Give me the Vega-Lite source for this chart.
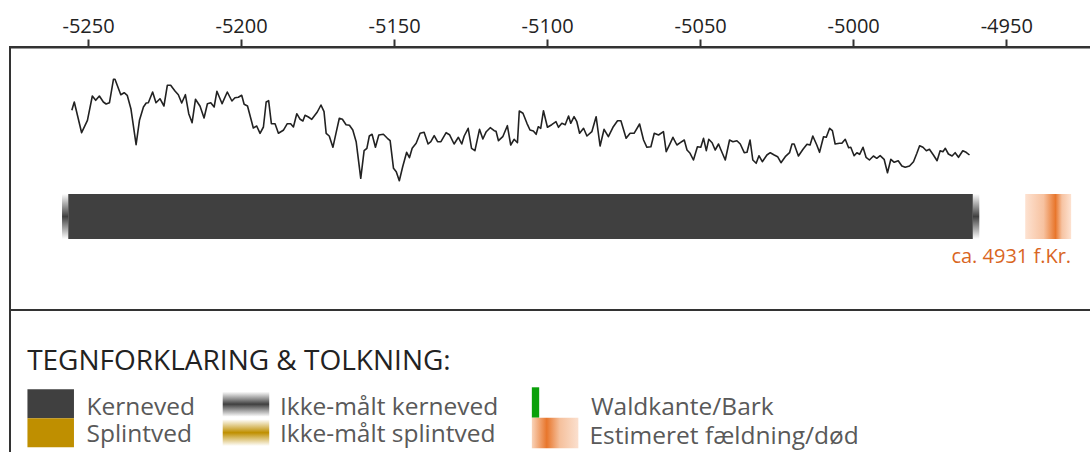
{
  "$schema": "https://vega.github.io/schema/vega-lite/v6.json",
  "width": 1085,
  "height": 410,
  "autosize": {"type": "none"},
  "padding": {"left": 10, "top": 47, "right": 0, "bottom": 0},
  "background": "white",
  "config": {
    "font": "Open Sans",
    "view": {"stroke": "#333333", "strokeWidth": 2},
    "axisX": {"orient": "top",
      "title": null, "grid": false, "domainColor": "#333333", "domainWidth": 2,
      "tickColor": "#333333", "tickWidth": 2, "tickSize": 8, "labelFontSize": 20,
      "labelFont": "Open Sans", "labelColor": "#222222", "labelPadding": 3,
      "labelExpr": "'-' + format(abs(datum.value), 'd')"},
    "axisY": {"disable": true}
  },
  "datasets": {
    "rings": [
      {"year": -5255.3, "w": 89.7}, {"year": -5254.5, "w": 98}, {"year": -5252.1, "w": 67.3}, {"year": -5250.2, "w": 79.7},
      {"year": -5248.6, "w": 104}, {"year": -5247.5, "w": 99.7}, {"year": -5246.3, "w": 104}, {"year": -5245.0, "w": 98},
      {"year": -5244.1, "w": 96}, {"year": -5243.0, "w": 97.3}, {"year": -5241.7, "w": 120.7}, {"year": -5241.2, "w": 120.7},
      {"year": -5239.3, "w": 105.3}, {"year": -5238.2, "w": 107.3}, {"year": -5237.2, "w": 104.7}, {"year": -5236.0, "w": 91.3},
      {"year": -5234.3, "w": 55.3}, {"year": -5233.2, "w": 79.7}, {"year": -5231.9, "w": 93}, {"year": -5231.0, "w": 97},
      {"year": -5230.3, "w": 97.3}, {"year": -5228.9, "w": 108}, {"year": -5227.8, "w": 97.3}, {"year": -5226.5, "w": 101.3},
      {"year": -5225.2, "w": 94}, {"year": -5224.1, "w": 114.7}, {"year": -5223.0, "w": 114.7}, {"year": -5221.6, "w": 109},
      {"year": -5220.5, "w": 105.3}, {"year": -5219.4, "w": 97}, {"year": -5218.2, "w": 105.3}, {"year": -5217.1, "w": 86.3},
      {"year": -5216.0, "w": 77.3}, {"year": -5214.9, "w": 100.7}, {"year": -5213.4, "w": 93.7}, {"year": -5212.1, "w": 82},
      {"year": -5211.0, "w": 96.3}, {"year": -5209.9, "w": 97.3}, {"year": -5208.8, "w": 93}, {"year": -5207.9, "w": 108.7},
      {"year": -5206.2, "w": 96.3}, {"year": -5204.5, "w": 108}, {"year": -5203.0, "w": 99}, {"year": -5202.0, "w": 102.3},
      {"year": -5200.9, "w": 102.7}, {"year": -5199.8, "w": 104.7}, {"year": -5199.0, "w": 95.7}, {"year": -5197.9, "w": 94},
      {"year": -5196.0, "w": 72}, {"year": -5194.9, "w": 74}, {"year": -5193.8, "w": 66.7}, {"year": -5192.7, "w": 73},
      {"year": -5191.8, "w": 98}, {"year": -5191.0, "w": 99.3}, {"year": -5190.1, "w": 76.3}, {"year": -5188.9, "w": 76.3},
      {"year": -5187.8, "w": 66.7}, {"year": -5186.2, "w": 69.7}, {"year": -5184.9, "w": 76.3}, {"year": -5183.8, "w": 76.3},
      {"year": -5182.9, "w": 73}, {"year": -5181.8, "w": 86.3}, {"year": -5180.7, "w": 80.7}, {"year": -5179.8, "w": 79},
      {"year": -5179.1, "w": 84.7}, {"year": -5178.0, "w": 83}, {"year": -5176.9, "w": 80.7}, {"year": -5175.1, "w": 88},
      {"year": -5173.9, "w": 95}, {"year": -5172.9, "w": 88.3}, {"year": -5172.2, "w": 66.7}, {"year": -5171.2, "w": 64},
      {"year": -5170.0, "w": 52.7}, {"year": -5169.0, "w": 66.7}, {"year": -5167.9, "w": 81.7}, {"year": -5166.9, "w": 80.7},
      {"year": -5165.7, "w": 75.3}, {"year": -5164.6, "w": 74.7}, {"year": -5163.5, "w": 70}, {"year": -5162.4, "w": 58.3},
      {"year": -5160.9, "w": 21.7}, {"year": -5159.8, "w": 49.3}, {"year": -5158.9, "w": 51.7}, {"year": -5158.1, "w": 64},
      {"year": -5157.2, "w": 65.7}, {"year": -5156.1, "w": 52.7}, {"year": -5155.0, "w": 65}, {"year": -5153.5, "w": 65.7},
      {"year": -5152.2, "w": 61.7}, {"year": -5151.3, "w": 59.3}, {"year": -5150.2, "w": 31.7}, {"year": -5149.3, "w": 28.3},
      {"year": -5148.3, "w": 19.3}, {"year": -5147.2, "w": 33.3}, {"year": -5145.9, "w": 47.7}, {"year": -5145.0, "w": 42.3},
      {"year": -5144.1, "w": 51.7}, {"year": -5142.8, "w": 56.7}, {"year": -5141.5, "w": 66.7}, {"year": -5140.2, "w": 67.7},
      {"year": -5138.9, "w": 56}, {"year": -5138.0, "w": 58.3}, {"year": -5136.9, "w": 64.3}, {"year": -5135.8, "w": 58.3},
      {"year": -5134.7, "w": 58.3}, {"year": -5133.0, "w": 67.3}, {"year": -5131.9, "w": 65.3}, {"year": -5130.4, "w": 56},
      {"year": -5129.0, "w": 62.7}, {"year": -5127.9, "w": 56}, {"year": -5127.1, "w": 64}, {"year": -5125.8, "w": 71.7},
      {"year": -5124.7, "w": 51.7}, {"year": -5123.6, "w": 49.3}, {"year": -5122.1, "w": 70.7}, {"year": -5121.0, "w": 61},
      {"year": -5119.9, "w": 68.3}, {"year": -5118.6, "w": 72.3}, {"year": -5117.3, "w": 69.3}, {"year": -5116.7, "w": 68.7},
      {"year": -5115.9, "w": 59.3}, {"year": -5114.5, "w": 63.3}, {"year": -5113.0, "w": 74.3}, {"year": -5111.9, "w": 55},
      {"year": -5110.8, "w": 60.7}, {"year": -5109.7, "w": 57.3}, {"year": -5109.1, "w": 89}, {"year": -5107.9, "w": 86.7},
      {"year": -5106.6, "w": 76.7}, {"year": -5105.6, "w": 70}, {"year": -5104.5, "w": 69}, {"year": -5103.6, "w": 65.7},
      {"year": -5102.9, "w": 73.3}, {"year": -5102.1, "w": 71.7}, {"year": -5101.2, "w": 89.3}, {"year": -5099.9, "w": 72.7},
      {"year": -5098.5, "w": 75.3}, {"year": -5097.1, "w": 78.3}, {"year": -5096.3, "w": 72.7}, {"year": -5095.2, "w": 76.7},
      {"year": -5094.1, "w": 75.3}, {"year": -5093.0, "w": 84}, {"year": -5092.3, "w": 76.7}, {"year": -5091.2, "w": 83.3},
      {"year": -5090.3, "w": 78.3}, {"year": -5089.4, "w": 66.7}, {"year": -5088.1, "w": 71.7}, {"year": -5087.0, "w": 64},
      {"year": -5085.4, "w": 68.3}, {"year": -5084.0, "w": 83.3}, {"year": -5082.7, "w": 54}, {"year": -5081.4, "w": 70.7},
      {"year": -5080.0, "w": 63.3}, {"year": -5078.5, "w": 72.7}, {"year": -5077.0, "w": 79.3}, {"year": -5075.9, "w": 79.3},
      {"year": -5074.2, "w": 61.7}, {"year": -5072.9, "w": 66.7}, {"year": -5071.6, "w": 66.7}, {"year": -5069.8, "w": 76},
      {"year": -5068.5, "w": 60}, {"year": -5067.4, "w": 52.7}, {"year": -5066.1, "w": 53.3}, {"year": -5065.0, "w": 66.7},
      {"year": -5063.6, "w": 65}, {"year": -5062.0, "w": 68.3}, {"year": -5061.1, "w": 48.3}, {"year": -5059.8, "w": 56.7},
      {"year": -5058.9, "w": 62.7}, {"year": -5057.6, "w": 55}, {"year": -5056.5, "w": 57.3}, {"year": -5055.2, "w": 60},
      {"year": -5054.3, "w": 50}, {"year": -5053.3, "w": 46.7}, {"year": -5052.2, "w": 40}, {"year": -5050.9, "w": 53.3},
      {"year": -5049.8, "w": 52.7}, {"year": -5048.9, "w": 61.7}, {"year": -5048.0, "w": 49.3}, {"year": -5047.2, "w": 60.7},
      {"year": -5046.1, "w": 57.3}, {"year": -5045.1, "w": 50}, {"year": -5044.0, "w": 56}, {"year": -5043.2, "w": 50},
      {"year": -5041.8, "w": 40}, {"year": -5040.4, "w": 60}, {"year": -5039.3, "w": 58.3}, {"year": -5038.0, "w": 59.3},
      {"year": -5036.9, "w": 56}, {"year": -5035.6, "w": 47.3}, {"year": -5034.7, "w": 47.7}, {"year": -5033.7, "w": 60},
      {"year": -5032.8, "w": 40}, {"year": -5031.7, "w": 36.7}, {"year": -5030.8, "w": 44.3}, {"year": -5029.7, "w": 38.3},
      {"year": -5028.2, "w": 45}, {"year": -5027.1, "w": 47.3}, {"year": -5025.8, "w": 45}, {"year": -5024.7, "w": 43.3},
      {"year": -5023.6, "w": 37.3}, {"year": -5022.2, "w": 43.3}, {"year": -5020.8, "w": 47.3}, {"year": -5020.0, "w": 56},
      {"year": -5019.3, "w": 56}, {"year": -5017.9, "w": 44}, {"year": -5016.4, "w": 50.7}, {"year": -5015.1, "w": 55.7},
      {"year": -5014.1, "w": 55}, {"year": -5013.2, "w": 64}, {"year": -5011.9, "w": 55}, {"year": -5011.0, "w": 47.7},
      {"year": -5009.7, "w": 63.3}, {"year": -5008.8, "w": 62.7}, {"year": -5007.7, "w": 71.7}, {"year": -5006.8, "w": 69.3},
      {"year": -5005.9, "w": 56}, {"year": -5004.5, "w": 56.7}, {"year": -5003.7, "w": 56.7}, {"year": -5002.6, "w": 60.7},
      {"year": -5001.5, "w": 52.3}, {"year": -5000.8, "w": 52.7}, {"year": -4999.7, "w": 44.3}, {"year": -4998.8, "w": 47.3},
      {"year": -4997.9, "w": 45.7}, {"year": -4996.8, "w": 52.7}, {"year": -4995.8, "w": 42.7}, {"year": -4994.7, "w": 40},
      {"year": -4993.4, "w": 44}, {"year": -4992.3, "w": 41.7}, {"year": -4991.2, "w": 44.3}, {"year": -4989.9, "w": 40.7},
      {"year": -4988.8, "w": 27.3}, {"year": -4987.7, "w": 40.7}, {"year": -4986.6, "w": 37.7}, {"year": -4985.3, "w": 39.3},
      {"year": -4984.1, "w": 34}, {"year": -4983.0, "w": 32.7}, {"year": -4981.6, "w": 34}, {"year": -4980.3, "w": 38.3},
      {"year": -4979.2, "w": 46.7}, {"year": -4978.3, "w": 54.3}, {"year": -4977.2, "w": 52.7}, {"year": -4976.1, "w": 49.3},
      {"year": -4975.1, "w": 50.7}, {"year": -4973.8, "w": 45}, {"year": -4972.6, "w": 39.3}, {"year": -4971.6, "w": 49.3},
      {"year": -4970.7, "w": 48.3}, {"year": -4969.9, "w": 51.7}, {"year": -4968.9, "w": 46}, {"year": -4967.7, "w": 44},
      {"year": -4966.7, "w": 47.3}, {"year": -4965.6, "w": 42.7}, {"year": -4964.2, "w": 49.3}, {"year": -4963.1, "w": 47.7},
      {"year": -4962.0, "w": 45}
    ],
    "boxes": [
      {"kind": "kerneved", "start": -5256.5, "end": -4960.9, "top": 6, "bottom": -39},
      {"kind": "ikke_kern", "start": -5258.5, "end": -5256.5, "top": 6, "bottom": -39},
      {"kind": "ikke_kern", "start": -4960.9, "end": -4958.8, "top": 6, "bottom": -39},
      {"kind": "estimat", "start": -4943.8, "end": -4928.8, "top": 6, "bottom": -39},
      {"kind": "kerneved", "start": -5269.8, "end": -5254.6, "top": -189.3, "bottom": -218.3},
      {"kind": "splint", "start": -5269.8, "end": -5254.6, "top": -218.3, "bottom": -247.3},
      {"kind": "ikke_kern", "start": -5206.0, "end": -5190.8, "top": -191.7, "bottom": -216.7},
      {"kind": "ikke_splint", "start": -5206.0, "end": -5190.8, "top": -219.3, "bottom": -246},
      {"kind": "wald", "start": -5105.0, "end": -5102.6, "top": -187.3, "bottom": -217.7},
      {"kind": "estimat_leg", "start": -5105.0, "end": -5089.8, "top": -217.7, "bottom": -248.3}
    ],
    "divider": [{"y": -110}],
    "labels": [
      {"group": "title", "label": "TEGNFORKLARING & TOLKNING:", "x": -5269.9, "y": -170},
      {"group": "legend", "label": "Kerneved", "x": -5250.5, "y": -215},
      {"group": "legend", "label": "Splintved", "x": -5250.5, "y": -241.7},
      {"group": "legend", "label": "Ikke-målt kerneved", "x": -5187.3, "y": -215},
      {"group": "legend", "label": "Ikke-målt splintved", "x": -5187.3, "y": -241.7},
      {"group": "legend", "label": "Waldkante/Bark", "x": -5085.7, "y": -215},
      {"group": "legend", "label": "Estimeret fældning/død", "x": -5086.2, "y": -244},
      {"group": "est", "label": "ca. 4931 f.Kr.", "x": -4928.8, "y": -57}
    ]
  },
  "layer": [
    {
      "data": {"name": "rings"},
      "mark": {"type": "line", "color": "#222222", "strokeWidth": 1.6, "strokeJoin": "round"},
      "encoding": {
        "x": {"field": "year", "type": "quantitative", "scale": {"domain": [-5275.5, -4921], "nice": false, "zero": false},
          "axis": {"values": [-5250, -5200, -5150, -5100, -5050, -5000, -4950]}},
        "y": {"field": "w", "type": "quantitative", "scale": {"domain": [-257, 153], "nice": false, "zero": false}}
      }
    },
    {
      "data": {"name": "boxes"},
      "transform": [{"filter": "datum.kind === 'kerneved'"}],
      "mark": {"type": "rect", "fill": "#404040"},
      "encoding": {
        "x": {"field": "start", "type": "quantitative"},
        "x2": {"field": "end"},
        "y": {"field": "top", "type": "quantitative"},
        "y2": {"field": "bottom"}
      }
    },
    {
      "data": {"name": "boxes"},
      "transform": [{"filter": "datum.kind === 'splint'"}],
      "mark": {"type": "rect", "fill": "#bf8f00"},
      "encoding": {
        "x": {"field": "start", "type": "quantitative"},
        "x2": {"field": "end"},
        "y": {"field": "top", "type": "quantitative"},
        "y2": {"field": "bottom"}
      }
    },
    {
      "data": {"name": "boxes"},
      "transform": [{"filter": "datum.kind === 'ikke_kern'"}],
      "mark": {"type": "rect", "fill": {"gradient": "linear", "x1": 0, "y1": 0, "x2": 0, "y2": 1,
        "stops": [{"offset": 0, "color": "#ffffff"}, {"offset": 0.5, "color": "#404040"}, {"offset": 1, "color": "#ffffff"}]}},
      "encoding": {
        "x": {"field": "start", "type": "quantitative"},
        "x2": {"field": "end"},
        "y": {"field": "top", "type": "quantitative"},
        "y2": {"field": "bottom"}
      }
    },
    {
      "data": {"name": "boxes"},
      "transform": [{"filter": "datum.kind === 'ikke_splint'"}],
      "mark": {"type": "rect", "fill": {"gradient": "linear", "x1": 0, "y1": 0, "x2": 0, "y2": 1,
        "stops": [{"offset": 0, "color": "#ffffff"}, {"offset": 0.5, "color": "#bf8f00"}, {"offset": 1, "color": "#ffffff"}]}},
      "encoding": {
        "x": {"field": "start", "type": "quantitative"},
        "x2": {"field": "end"},
        "y": {"field": "top", "type": "quantitative"},
        "y2": {"field": "bottom"}
      }
    },
    {
      "data": {"name": "boxes"},
      "transform": [{"filter": "datum.kind === 'wald'"}],
      "mark": {"type": "rect", "fill": "#0aa00a"},
      "encoding": {
        "x": {"field": "start", "type": "quantitative"},
        "x2": {"field": "end"},
        "y": {"field": "top", "type": "quantitative"},
        "y2": {"field": "bottom"}
      }
    },
    {
      "data": {"name": "boxes"},
      "transform": [{"filter": "datum.kind === 'estimat'"}],
      "mark": {"type": "rect", "fill": {"gradient": "linear", "x1": 0, "y1": 0, "x2": 1, "y2": 0,
        "stops": [{"offset": 0, "color": "#fde2d1"}, {"offset": 0.4, "color": "#f7c2a0"}, {"offset": 0.66, "color": "#e8762c"}, {"offset": 0.8, "color": "#f6c3a2"}, {"offset": 1, "color": "#fde2d1"}]}},
      "encoding": {
        "x": {"field": "start", "type": "quantitative"},
        "x2": {"field": "end"},
        "y": {"field": "top", "type": "quantitative"},
        "y2": {"field": "bottom"}
      }
    },
    {
      "data": {"name": "boxes"},
      "transform": [{"filter": "datum.kind === 'estimat_leg'"}],
      "mark": {"type": "rect", "fill": {"gradient": "linear", "x1": 0, "y1": 0, "x2": 1, "y2": 0,
        "stops": [{"offset": 0, "color": "#f9d3b9"}, {"offset": 0.32, "color": "#e8762c"}, {"offset": 0.6, "color": "#f5c09c"}, {"offset": 1, "color": "#fbe0cf"}]}},
      "encoding": {
        "x": {"field": "start", "type": "quantitative"},
        "x2": {"field": "end"},
        "y": {"field": "top", "type": "quantitative"},
        "y2": {"field": "bottom"}
      }
    },
    {
      "data": {"name": "divider"},
      "mark": {"type": "rule", "color": "#333333", "strokeWidth": 2},
      "encoding": {
        "y": {"field": "y", "type": "quantitative"}
      }
    },
    {
      "data": {"name": "labels"},
      "transform": [{"filter": "datum.group === 'title'"}],
      "mark": {"type": "text", "align": "left", "baseline": "alphabetic", "fontSize": 28, "font": "Open Sans", "color": "#222222"},
      "encoding": {
        "x": {"field": "x", "type": "quantitative"},
        "y": {"field": "y", "type": "quantitative"},
        "text": {"field": "label"}
      }
    },
    {
      "data": {"name": "labels"},
      "transform": [{"filter": "datum.group === 'legend'"}],
      "mark": {"type": "text", "align": "left", "baseline": "alphabetic", "fontSize": 24.5, "font": "Open Sans", "color": "#595959"},
      "encoding": {
        "x": {"field": "x", "type": "quantitative"},
        "y": {"field": "y", "type": "quantitative"},
        "text": {"field": "label"}
      }
    },
    {
      "data": {"name": "labels"},
      "transform": [{"filter": "datum.group === 'est'"}],
      "mark": {"type": "text", "align": "right", "baseline": "middle", "fontSize": 20, "font": "Open Sans", "color": "#d9661f"},
      "encoding": {
        "x": {"field": "x", "type": "quantitative"},
        "y": {"field": "y", "type": "quantitative"},
        "text": {"field": "label"}
      }
    }
  ]
}
